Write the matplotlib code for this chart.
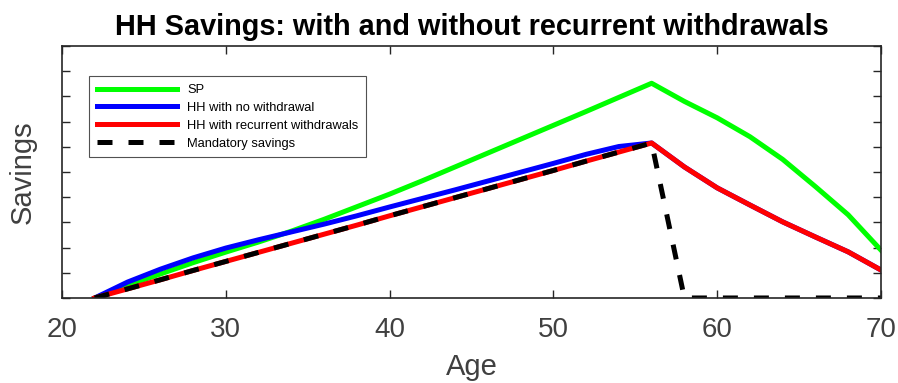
import matplotlib
matplotlib.use('Agg')
import matplotlib.pyplot as plt

plt.rcParams['font.family'] = ['Liberation Sans', 'DejaVu Sans']

# ages (years)
age = [22, 24, 26, 28, 30, 32, 34, 36, 38, 40, 42, 44, 46, 48, 50, 52, 54, 56,
       58, 60, 62, 64, 66, 68, 70]

# savings (arbitrary units)
sp = [0, 0.50, 0.95, 1.40, 1.82, 2.22, 2.65, 3.12, 3.62, 4.12, 4.65, 5.20, 5.75,
      6.30, 6.85, 7.40, 7.96, 8.52,
      7.80, 7.15, 6.40, 5.50, 4.42, 3.30, 1.90]
hh_no_wd = [0, 0.63, 1.14, 1.59, 1.98, 2.31, 2.62, 2.93, 3.26, 3.61, 3.95, 4.29,
            4.64, 4.99, 5.34, 5.70, 6.01, 6.15,
            5.20, 4.37, 3.69, 3.02, 2.42, 1.83, 1.11]
hh_rec_wd = [0, 0.36, 0.72, 1.09, 1.45, 1.81, 2.17, 2.53, 2.89, 3.26, 3.62, 3.98,
             4.34, 4.70, 5.06, 5.43, 5.79, 6.15,
             5.20, 4.37, 3.69, 3.02, 2.42, 1.83, 1.11]
mandatory = [0, 0.36, 0.72, 1.09, 1.45, 1.81, 2.17, 2.53, 2.89, 3.26, 3.62, 3.98,
             4.34, 4.70, 5.06, 5.43, 5.79, 6.15,
             0, 0, 0, 0, 0, 0, 0]

fig = plt.figure(figsize=(8.98, 3.83), dpi=100)
ax = fig.add_axes([0.069, 0.222, 0.912, 0.658])

lw = 3.6
ax.plot(age, sp, color='#00ff00', lw=lw, label='SP')
ax.plot(age, hh_no_wd, color='#0000ff', lw=lw, label='HH with no withdrawal')
ax.plot(age, hh_rec_wd, color='#ff0000', lw=lw, label='HH with recurrent withdrawals')
ax.plot(age, mandatory, color='black', lw=lw, dashes=(3.0, 3.2),
        label='Mandatory savings')

ax.set_xlim(20, 70)
ax.set_ylim(0, 10)
ax.set_xticks([20, 30, 40, 50, 60, 70])
ax.set_yticks(range(0, 11))
ax.set_yticklabels([])
ax.tick_params(direction='in', length=5.5, width=1.0, top=True, right=True,
               labelsize=20, colors='#262626', labelcolor='#404040', pad=14)
for s in ax.spines.values():
    s.set_linewidth(1.2)
    s.set_color('#262626')

ax.set_xlabel('Age', fontsize=21, color='#404040', labelpad=7)
ax.set_ylabel('Savings', fontsize=21, color='#404040', labelpad=4)
ax.set_title('HH Savings: with and without recurrent withdrawals',
             fontsize=20.8, fontweight='bold', pad=8)

leg = ax.legend(loc='upper left', bbox_to_anchor=(0.025, 0.905), fontsize=9.3,
                handlelength=6.2, frameon=True, fancybox=False,
                edgecolor='#262626', borderpad=0.6, labelspacing=0.45)
leg.get_frame().set_linewidth(0.8)

fig.savefig('out.png', dpi=100)
